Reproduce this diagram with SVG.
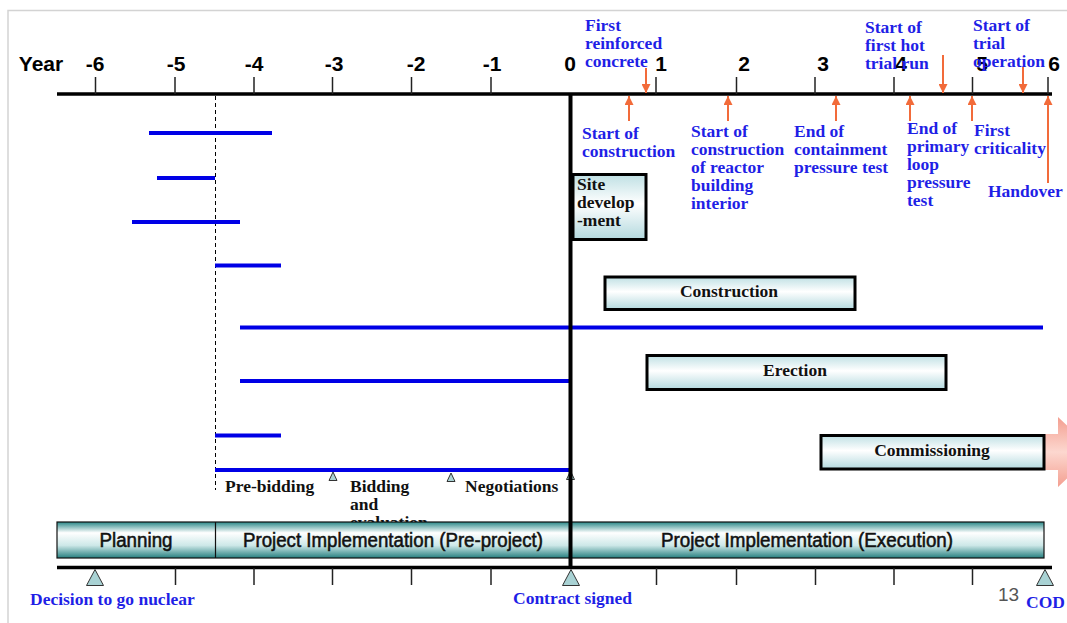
<svg xmlns="http://www.w3.org/2000/svg" width="1067" height="623" viewBox="0 0 1067 623">
<defs>
<linearGradient id="boxg" x1="0" y1="0" x2="0" y2="1">
<stop offset="0" stop-color="#bfe0e4"/>
<stop offset="0.45" stop-color="#ffffff"/>
<stop offset="1" stop-color="#b3d9de"/>
</linearGradient>
<linearGradient id="phaseg" x1="0" y1="0" x2="0" y2="1">
<stop offset="0" stop-color="#2a8888"/>
<stop offset="0.3" stop-color="#ffffff"/>
<stop offset="0.65" stop-color="#cde8e8"/>
<stop offset="1" stop-color="#267f7f"/>
</linearGradient>
<linearGradient id="pinkg" x1="0" y1="0" x2="0" y2="1">
<stop offset="0" stop-color="#f29484"/>
<stop offset="0.5" stop-color="#fcd3ca"/>
<stop offset="1" stop-color="#f29484"/>
</linearGradient>
<marker id="ah" viewBox="0 0 10 10" refX="10" refY="5" markerWidth="9" markerHeight="9" markerUnits="userSpaceOnUse" orient="auto">
<path d="M0,0 L10,5 L0,10 z" fill="#f26b3a"/>
</marker>
<style>
.ax{stroke:#000;stroke-width:3.5;fill:none}
.tk{stroke:#222;stroke-width:1.5}
.yr{font-family:"Liberation Sans",Arial,sans-serif;font-weight:bold;font-size:21px;fill:#000;text-anchor:middle}
.bl{font-family:"Liberation Serif","Times New Roman",serif;font-weight:bold;font-size:17.5px;fill:#1f1fe6}
.bk{font-family:"Liberation Serif","Times New Roman",serif;font-weight:bold;font-size:17.5px;fill:#111}
.bar{stroke:#0000e6;stroke-width:4}
.oa{stroke:#f26b3a;stroke-width:2;marker-end:url(#ah)}
.box{fill:url(#boxg);stroke:#000;stroke-width:3}
.tri{fill:#a9d2d4;stroke:#333;stroke-width:1}
.ph{font-family:"Liberation Sans",Arial,sans-serif;font-size:20px;fill:#111;stroke:#111;stroke-width:0.55;text-anchor:middle}
</style>
</defs>

<!-- frame -->
<path d="M8,623 V10.5 H1067" fill="none" stroke="#d3d3d3" stroke-width="1.5"/>

<!-- top axis -->
<g id="top-axis">
<line class="ax" x1="57" y1="94" x2="1052" y2="94"/>
<g class="tk">
<line x1="95.5" y1="77" x2="95.5" y2="94"/>
<line x1="175" y1="77" x2="175" y2="94"/>
<line x1="254" y1="77" x2="254" y2="94"/>
<line x1="332.5" y1="77" x2="332.5" y2="94"/>
<line x1="411.5" y1="77" x2="411.5" y2="94"/>
<line x1="491" y1="77" x2="491" y2="94"/>
<line x1="656" y1="77" x2="656" y2="94"/>
<line x1="736.5" y1="77" x2="736.5" y2="94"/>
<line x1="815" y1="77" x2="815" y2="94"/>
<line x1="894" y1="77" x2="894" y2="94"/>
<line x1="972.5" y1="77" x2="972.5" y2="94"/>
<line x1="1048" y1="77" x2="1048" y2="94"/>
</g>
<text class="yr" x="41" y="71">Year</text>
<text class="yr" x="95" y="71">-6</text>
<text class="yr" x="176" y="71">-5</text>
<text class="yr" x="254" y="71">-4</text>
<text class="yr" x="334" y="71">-3</text>
<text class="yr" x="416" y="71">-2</text>
<text class="yr" x="492" y="71">-1</text>
<text class="yr" x="570" y="71">0</text>
<text class="yr" x="661" y="71">1</text>
<text class="yr" x="744" y="71">2</text>
<text class="yr" x="823" y="71">3</text>
<text class="yr" x="901" y="71">4</text>
<text class="yr" x="982" y="71">5</text>
<text class="yr" x="1054" y="71">6</text>
</g>

<!-- dashed line -->
<line x1="215.5" y1="96" x2="215.5" y2="490" stroke="#000" stroke-width="1" stroke-dasharray="4,3"/>

<!-- connectors / arrows -->
<g id="connectors">
<line class="oa" x1="646" y1="68" x2="646" y2="93"/>
<line class="oa" x1="943" y1="55" x2="943" y2="93"/>
<line class="oa" x1="1023" y1="67" x2="1023" y2="93"/>
<line class="oa" x1="629" y1="121" x2="629" y2="96"/>
<line class="oa" x1="728" y1="121" x2="728" y2="96"/>
<line class="oa" x1="836" y1="121" x2="836" y2="96"/>
<line class="oa" x1="910" y1="121" x2="910" y2="96"/>
<line class="oa" x1="972" y1="121" x2="972" y2="96"/>
<line class="oa" x1="1048" y1="183" x2="1048" y2="96"/>
</g>

<!-- milestone labels -->
<g id="m-first-concrete"><text class="bl" x="585"><tspan x="585" y="31">First</tspan><tspan x="585" y="49">reinforced</tspan><tspan x="585" y="67">concrete</tspan></text></g>
<g id="m-hot-trial"><text class="bl" x="865"><tspan x="865" y="33">Start of</tspan><tspan x="865" y="51">first hot</tspan><tspan x="865" y="69">trial run</tspan></text></g>
<g id="m-trial-op"><text class="bl" x="973"><tspan x="973" y="31">Start of</tspan><tspan x="973" y="49">trial</tspan><tspan x="973" y="67">operation</tspan></text></g>
<g id="m-start-constr"><text class="bl" x="582"><tspan x="582" y="139">Start of</tspan><tspan x="582" y="157">construction</tspan></text></g>
<g id="m-reactor"><text class="bl" x="691"><tspan x="691" y="137">Start of</tspan><tspan x="691" y="155">construction</tspan><tspan x="691" y="173">of reactor</tspan><tspan x="691" y="191">building</tspan><tspan x="691" y="209">interior</tspan></text></g>
<g id="m-containment"><text class="bl" x="794"><tspan x="794" y="137">End of</tspan><tspan x="794" y="155">containment</tspan><tspan x="794" y="173">pressure test</tspan></text></g>
<g id="m-primary"><text class="bl" x="907"><tspan x="907" y="134">End of</tspan><tspan x="907" y="152">primary</tspan><tspan x="907" y="170">loop</tspan><tspan x="907" y="188">pressure</tspan><tspan x="907" y="206">test</tspan></text></g>
<g id="m-criticality"><text class="bl" x="974"><tspan x="974" y="136">First</tspan><tspan x="974" y="154">criticality</tspan></text></g>
<g id="m-handover"><text class="bl" x="988" y="197">Handover</text></g>

<!-- blue bars -->
<g id="bars">
<line class="bar" x1="149" y1="133" x2="272" y2="133"/>
<line class="bar" x1="157" y1="178" x2="215" y2="178"/>
<line class="bar" x1="132" y1="222" x2="240" y2="222"/>
<line class="bar" x1="215" y1="265.5" x2="281" y2="265.5"/>
<line class="bar" x1="240" y1="327.5" x2="1043" y2="327.5"/>
<line class="bar" x1="240" y1="381" x2="570" y2="381"/>
<line class="bar" x1="215" y1="435.5" x2="281" y2="435.5"/>
<line class="bar" x1="215" y1="470" x2="570" y2="470"/>
</g>

<!-- small triangles -->
<g id="pre-milestones">
<path class="tri" d="M333,472 L337,480.5 L329,480.5 Z"/>
<path class="tri" d="M451,473 L455,481.5 L447,481.5 Z"/>
<path class="tri" d="M570.5,471 L574.5,479.5 L566.5,479.5 Z"/>
<text class="bk" x="225" y="492">Pre-bidding</text>
<text class="bk" x="350"><tspan x="350" y="492">Bidding</tspan><tspan x="350" y="510">and</tspan><tspan x="350" y="528">evaluation</tspan></text>
<text class="bk" x="465" y="492">Negotiations</text>
</g>

<!-- activity boxes -->
<g id="site">
<rect class="box" x="573" y="174.5" width="73" height="65"/>
<text class="bk" x="577"><tspan x="577" y="190">Site</tspan><tspan x="577" y="208">develop</tspan><tspan x="577" y="226">-ment</tspan></text>
</g>
<g id="construction">
<rect class="box" x="605" y="277" width="250" height="32.5"/>
<text class="bk" x="729" y="297" text-anchor="middle">Construction</text>
</g>
<g id="erection">
<rect class="box" x="647" y="355.5" width="299" height="34"/>
<text class="bk" x="795" y="376" text-anchor="middle">Erection</text>
</g>
<g id="commissioning-arrow">
<path d="M1044,434 H1058 V417 L1095,452 L1058,487 V470 H1044 Z" fill="url(#pinkg)" opacity="0.9"/>
</g>
<g id="commissioning">
<rect class="box" x="821" y="435.5" width="223" height="33.5"/>
<text class="bk" x="932" y="456" text-anchor="middle">Commissioning</text>
</g>

<!-- phase bar -->
<g id="phases">
<rect x="57" y="522" width="987" height="36" fill="url(#phaseg)" stroke="#111" stroke-width="1.2"/>
<line x1="215.5" y1="522" x2="215.5" y2="558" stroke="#111" stroke-width="1.2"/>
<text class="ph" x="136" y="547" textLength="73" lengthAdjust="spacingAndGlyphs">Planning</text>
<text class="ph" x="393" y="547" textLength="300" lengthAdjust="spacingAndGlyphs">Project Implementation (Pre-project)</text>
<text class="ph" x="807" y="547" textLength="292" lengthAdjust="spacingAndGlyphs">Project Implementation (Execution)</text>
</g>

<!-- zero line -->
<line x1="570.5" y1="93" x2="570.5" y2="568" stroke="#000" stroke-width="4"/>

<!-- bottom axis -->
<g id="bottom-axis">
<line class="ax" x1="57" y1="567.5" x2="1052" y2="567.5"/>
<g class="tk">
<line x1="175.5" y1="568" x2="175.5" y2="585"/>
<line x1="254" y1="568" x2="254" y2="585"/>
<line x1="332.5" y1="568" x2="332.5" y2="585"/>
<line x1="411.5" y1="568" x2="411.5" y2="585"/>
<line x1="491" y1="568" x2="491" y2="585"/>
<line x1="656.5" y1="568" x2="656.5" y2="585"/>
<line x1="736.5" y1="568" x2="736.5" y2="585"/>
<line x1="815.5" y1="568" x2="815.5" y2="585"/>
<line x1="894" y1="568" x2="894" y2="585"/>
<line x1="972.5" y1="568" x2="972.5" y2="585"/>
</g>
</g>
<g id="decision">
<path class="tri" d="M95,569.5 L103.5,585.5 L86.5,585.5 Z"/>
<text class="bl" x="30" y="605">Decision to go nuclear</text>
</g>
<g id="contract">
<path class="tri" d="M571,569.5 L579.5,585.5 L562.5,585.5 Z"/>
<text class="bl" x="513" y="604">Contract signed</text>
</g>
<g id="cod">
<path class="tri" d="M1045,569.5 L1053.5,585.5 L1036.5,585.5 Z"/>
<text class="bl" x="1026" y="608">COD</text>
</g>
<text x="998" y="601" font-family="'Liberation Sans',Arial,sans-serif" font-size="19" fill="#555">13</text>
</svg>
